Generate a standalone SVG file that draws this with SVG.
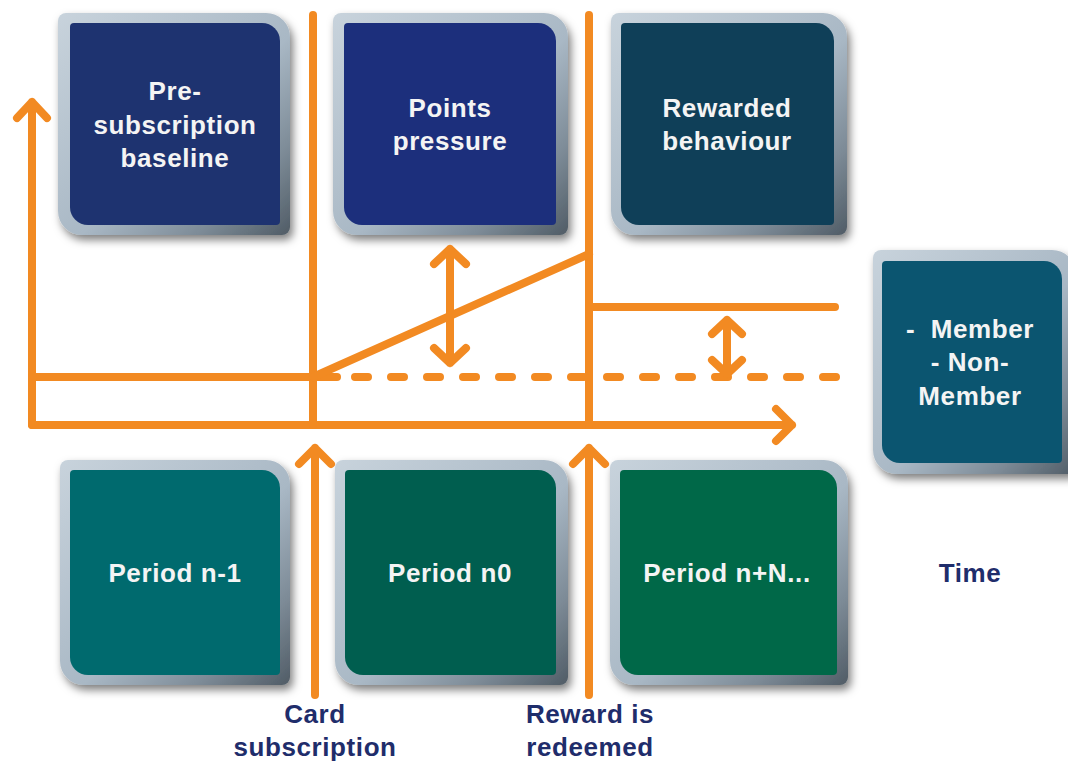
<svg xmlns="http://www.w3.org/2000/svg" width="1068" height="762" viewBox="0 0 1068 762">
<defs>
<linearGradient id="frame" x1="0" y1="0" x2="1" y2="1">
<stop offset="0" stop-color="#c8d3dc"/>
<stop offset="0.55" stop-color="#a9b8c5"/>
<stop offset="0.8" stop-color="#7d8b97"/>
<stop offset="1" stop-color="#505c66"/>
</linearGradient>
<filter id="sh" x="-10%" y="-10%" width="125%" height="125%">
<feDropShadow dx="3" dy="5" stdDeviation="4" flood-color="#000" flood-opacity="0.5"/>
</filter>
</defs>
<style>
.frame{fill:url(#frame);filter:url(#sh)}
.lbl{font-family:"Liberation Sans",Arial,sans-serif;font-weight:bold;font-size:26px;letter-spacing:0.6px;fill:#f4f4f4;text-anchor:middle}
.nav{font-family:"Liberation Sans",Arial,sans-serif;font-weight:bold;font-size:26px;letter-spacing:0.6px;fill:#1f2d6b;text-anchor:middle}
.o{fill:none;stroke:#f28a22;stroke-width:8;stroke-linecap:round;stroke-linejoin:round}
.d{stroke-dasharray:13 23}
</style>
<rect width="1068" height="762" fill="#ffffff"/>

<g id="node-pre-subscription">
<path class="frame" d="M66,13 H266 A24,24 0 0 1 290,37 V227 A8,8 0 0 1 282,235 H82 A24,24 0 0 1 58,211 V21 A8,8 0 0 1 66,13 Z"/>
<path fill="#1e3370" d="M74,23 H262 A18,18 0 0 1 280,41 V221 A4,4 0 0 1 276,225 H88 A18,18 0 0 1 70,207 V27 A4,4 0 0 1 74,23 Z"/>
<text class="lbl" x="175" y="100">Pre-</text>
<text class="lbl" x="175" y="134">subscription</text>
<text class="lbl" x="175" y="167">baseline</text>
</g>

<g id="node-points-pressure">
<path class="frame" d="M341,13 H544 A24,24 0 0 1 568,37 V227 A8,8 0 0 1 560,235 H357 A24,24 0 0 1 333,211 V21 A8,8 0 0 1 341,13 Z"/>
<path fill="#1c2f7c" d="M348,23 H538 A18,18 0 0 1 556,41 V221 A4,4 0 0 1 552,225 H362 A18,18 0 0 1 344,207 V27 A4,4 0 0 1 348,23 Z"/>
<text class="lbl" x="450" y="117">Points</text>
<text class="lbl" x="450" y="150">pressure</text>
</g>

<g id="node-rewarded-behaviour">
<path class="frame" d="M619,13 H823 A24,24 0 0 1 847,37 V227 A8,8 0 0 1 839,235 H635 A24,24 0 0 1 611,211 V21 A8,8 0 0 1 619,13 Z"/>
<path fill="#0f3f58" d="M625,23 H816 A18,18 0 0 1 834,41 V221 A4,4 0 0 1 830,225 H639 A18,18 0 0 1 621,207 V27 A4,4 0 0 1 625,23 Z"/>
<text class="lbl" x="727" y="117">Rewarded</text>
<text class="lbl" x="727" y="150">behaviour</text>
</g>

<g id="node-member">
<path class="frame" d="M881,250 H1052 A24,24 0 0 1 1076,274 V466 A8,8 0 0 1 1068,474 H897 A24,24 0 0 1 873,450 V258 A8,8 0 0 1 881,250 Z"/>
<path fill="#0b5570" d="M886,261 H1044 A18,18 0 0 1 1062,279 V459 A4,4 0 0 1 1058,463 H900 A18,18 0 0 1 882,445 V265 A4,4 0 0 1 886,261 Z"/>
<text class="lbl" x="970" y="338" xml:space="preserve">-  Member</text>
<text class="lbl" x="970" y="371">- Non-</text>
<text class="lbl" x="970" y="405">Member</text>
</g>

<g id="node-period-n-1">
<path class="frame" d="M68,460 H266 A24,24 0 0 1 290,484 V677 A8,8 0 0 1 282,685 H84 A24,24 0 0 1 60,661 V468 A8,8 0 0 1 68,460 Z"/>
<path fill="#006a6e" d="M74,470 H262 A18,18 0 0 1 280,488 V671 A4,4 0 0 1 276,675 H88 A18,18 0 0 1 70,657 V474 A4,4 0 0 1 74,470 Z"/>
<text class="lbl" x="175" y="582">Period n-1</text>
</g>

<g id="node-period-n0">
<path class="frame" d="M343,460 H544 A24,24 0 0 1 568,484 V677 A8,8 0 0 1 560,685 H359 A24,24 0 0 1 335,661 V468 A8,8 0 0 1 343,460 Z"/>
<path fill="#005e4f" d="M349,470 H538 A18,18 0 0 1 556,488 V671 A4,4 0 0 1 552,675 H363 A18,18 0 0 1 345,657 V474 A4,4 0 0 1 349,470 Z"/>
<text class="lbl" x="450" y="582">Period n0</text>
</g>

<g id="node-period-nN">
<path class="frame" d="M618,460 H824 A24,24 0 0 1 848,484 V677 A8,8 0 0 1 840,685 H634 A24,24 0 0 1 610,661 V468 A8,8 0 0 1 618,460 Z"/>
<path fill="#006848" d="M624,470 H819 A18,18 0 0 1 837,488 V671 A4,4 0 0 1 833,675 H638 A18,18 0 0 1 620,657 V474 A4,4 0 0 1 624,470 Z"/>
<text class="lbl" x="727" y="582">Period n+N...</text>
</g>

<g id="labels">
<text class="nav" x="970" y="582">Time</text>
<text class="nav" x="315" y="723">Card</text>
<text class="nav" x="315" y="756">subscription</text>
<text class="nav" x="590" y="723">Reward is</text>
<text class="nav" x="590" y="756">redeemed</text>
</g>

<g id="connectors">
<path class="o" d="M32,425 V102 M17,118 L32,102 L47,118"/>
<path class="o" d="M32,425 H792 M776,409 L792,425 L776,441"/>
<path class="o" d="M32,377 H337"/>
<path class="o d" d="M355,377 H838"/>
<path class="o" d="M313,15 V425"/>
<path class="o" d="M589,15 V425"/>
<path class="o" d="M313,377 L589,254"/>
<path class="o" d="M589,307 H835"/>
<path class="o" d="M450,249 V363 M434,264 L450,249 L466,264 M434,348 L450,363 L466,348"/>
<path class="o" d="M727,320 V374 M712,334 L727,320 L742,334 M712,360 L727,374 L742,360"/>
<path class="o" d="M315,695 V448 M299,464 L315,448 L331,464"/>
<path class="o" d="M589,695 V448 M573,464 L589,448 L605,464"/>
</g>
</svg>
